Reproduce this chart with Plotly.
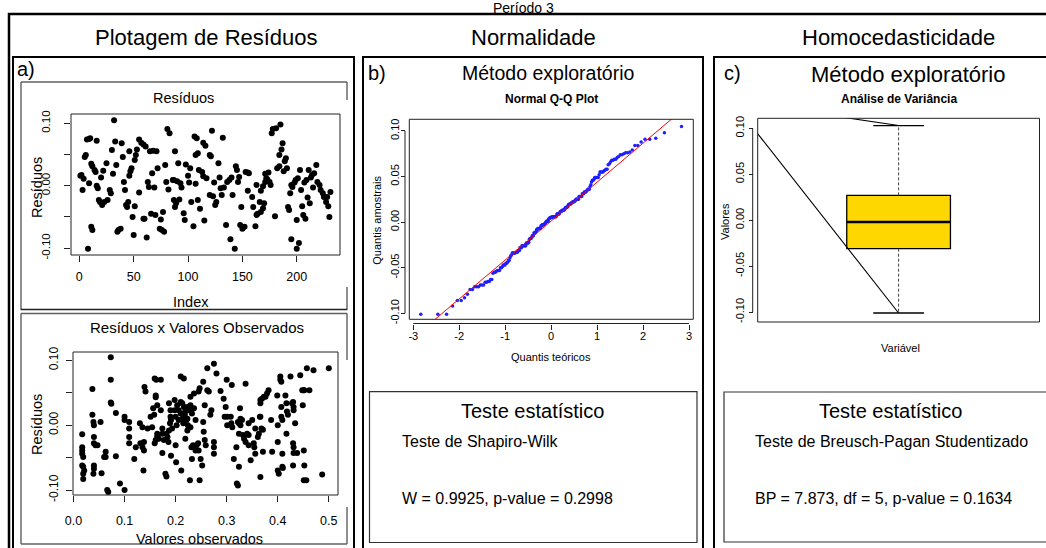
import plotly.graph_objects as go
from statistics import NormalDist

W, H = 1046, 548
FONT = "Liberation Sans, Arial, Helvetica, sans-serif"

# ---------------- data ----------------
# a) Resíduos x Index
indice = [1, 2, 3, 4, 5, 6, 7, 8, 9, 9, 10, 11, 11, 12, 12, 14, 15, 16, 16, 17, 18, 19, 20, 21, 22, 23, 25, 26,
          28, 29, 30, 31, 32, 33, 34, 35, 36, 38, 39, 40, 41, 42, 43, 44, 45, 46, 46, 47, 48, 49, 50, 51, 51, 52,
          53, 55, 55, 57, 59, 59, 60, 61, 62, 63, 64, 65, 66, 67, 68, 69, 70, 71, 72, 74, 75, 76, 77, 78, 79, 80,
          81, 82, 83, 86, 87, 87, 88, 88, 89, 90, 91, 92, 93, 94, 96, 97, 98, 100, 101, 102, 103, 105, 106, 107,
          107, 108, 109, 109, 110, 111, 113, 114, 114, 115, 116, 117, 120, 120, 121, 122, 123, 124, 125, 126, 128,
          129, 130, 131, 132, 133, 135, 136, 138, 139, 140, 141, 143, 144, 145, 146, 147, 148, 149, 150, 152, 153,
          155, 155, 156, 159, 160, 162, 163, 163, 164, 166, 167, 167, 169, 169, 170, 171, 171, 172, 173, 174, 175,
          176, 177, 178, 180, 181, 182, 184, 184, 185, 186, 187, 188, 189, 190, 191, 192, 193, 194, 195, 195, 196,
          198, 199, 200, 200, 201, 202, 203, 204, 205, 206, 207, 208, 209, 210, 211, 212, 213, 214, 215, 216, 218,
          219, 221, 222, 224, 225, 227, 228, 229, 230, 231]
residuos = [0.016, 0.017, -0.007, 0.011, 0.046, 0.049, 0.074, -0.101, 0.004, 0.075, 0.076, 0.035, -0.066, 0.031,
            -0.071, 0.025, 0.022, 0.072, 0.000, -0.004, -0.023, -0.026, 0.013, -0.031, 0.024, -0.026, 0.036, -0.023,
            -0.007, -0.012, 0.057, 0.019, 0.105, 0.071, 0.033, -0.074, -0.071, -0.069, 0.068, 0.046, 0.006, -0.007,
            -0.031, -0.034, -0.026, 0.016, 0.055, 0.023, 0.028, -0.050, -0.079, 0.041, -0.033, 0.049, 0.058, 0.074,
            -0.011, 0.069, 0.066, -0.053, -0.053, 0.063, -0.083, 0.006, -0.002, 0.055, -0.045, 0.020, 0.056, -0.003,
            -0.047, 0.055, 0.028, -0.069, -0.054, -0.071, -0.042, -0.074, 0.033, 0.006, 0.091, -0.006, 0.084, 0.009,
            0.009, -0.023, -0.034, 0.055, -0.028, 0.007, 0.036, -0.022, 0.004, -0.003, -0.044, -0.055, 0.034, 0.016,
            0.005, 0.028, -0.026, -0.065, 0.079, 0.003, 0.049, 0.076, 0.052, -0.023, 0.025, -0.037, 0.022, 0.015,
            0.069, -0.056, 0.064, 0.012, 0.049, -0.015, 0.047, 0.088, -0.017, 0.005, -0.031, -0.026, 0.036, 0.013,
            -0.004, -0.015, 0.077, -0.003, -0.063, 0.006, 0.009, -0.086, 0.013, -0.015, -0.101, 0.031, 0.025, 0.006,
            0.014, -0.063, -0.034, -0.069, -0.066, 0.022, 0.021, -0.008, 0.020, -0.018, -0.034, -0.065, -0.047,
            0.001, -0.045, -0.026, -0.042, -0.008, -0.036, -0.001, -0.028, 0.006, 0.019, 0.012, 0.010, 0.021, 0.006,
            0.001, 0.084, 0.091, -0.049, 0.092, 0.028, 0.031, 0.049, 0.098, 0.058, 0.068, 0.023, 0.039, 0.044, 0.028,
            -0.034, -0.039, -0.012, 0.001, -0.086, -0.002, 0.005, 0.009, -0.055, -0.101, 0.012, -0.092, 0.025,
            -0.007, -0.033, -0.047, 0.005, -0.053, 0.009, -0.019, 0.025, -0.028, 0.013, 0.017, -0.003, 0.020, 0.033,
            0.006, 0.001, -0.007, -0.012, -0.018, -0.026, -0.018, -0.033, -0.050, -0.010]

# a) Resíduos x Valores observados
valores_obs = [0.017, 0.017, 0.017, 0.017, 0.019, 0.017, 0.019, 0.021, 0.019, 0.019, 0.037, 0.037, 0.039, 0.040,
               0.040, 0.040, 0.043, 0.047, 0.040, 0.040, 0.039, 0.053, 0.055, 0.060, 0.063, 0.063, 0.066, 0.068,
               0.073, 0.073, 0.073, 0.074, 0.083, 0.083, 0.091, 0.100, 0.100, 0.100,
               0.109, 0.109, 0.109, 0.109, 0.119, 0.122, 0.130, 0.135, 0.131, 0.135, 0.138, 0.138, 0.137, 0.139,
               0.141, 0.145, 0.151, 0.154, 0.156, 0.158, 0.159, 0.161, 0.164, 0.159, 0.162, 0.161, 0.161, 0.164,
               0.164, 0.167, 0.171, 0.171, 0.174, 0.174, 0.174, 0.177, 0.180, 0.182, 0.182, 0.184, 0.186, 0.187,
               0.187, 0.190, 0.190, 0.191, 0.189, 0.191, 0.193, 0.198, 0.198, 0.200, 0.200, 0.201,
               0.203, 0.206, 0.210, 0.210, 0.213, 0.215, 0.216, 0.219, 0.221, 0.206, 0.202, 0.213, 0.218, 0.223,
               0.224, 0.226, 0.223, 0.229, 0.232, 0.236, 0.239, 0.229, 0.210, 0.216, 0.211, 0.219, 0.223, 0.228,
               0.231, 0.234, 0.239, 0.232, 0.229, 0.236, 0.241, 0.244, 0.245, 0.245, 0.247, 0.247, 0.249, 0.252,
               0.254, 0.254, 0.255, 0.257, 0.259, 0.257, 0.262, 0.262, 0.265, 0.268, 0.270, 0.275, 0.275, 0.275,
               0.275, 0.280, 0.288, 0.294, 0.298, 0.296,
               0.300, 0.301, 0.301, 0.308, 0.309, 0.311, 0.310, 0.314, 0.319, 0.320, 0.322, 0.322, 0.324, 0.324,
               0.326, 0.327, 0.327, 0.324, 0.330, 0.332, 0.334, 0.337, 0.337, 0.340, 0.343, 0.343, 0.343, 0.347,
               0.350, 0.353, 0.354, 0.356, 0.356, 0.361, 0.363, 0.365, 0.366, 0.366, 0.366, 0.369, 0.366, 0.368,
               0.371, 0.371, 0.373, 0.376, 0.379, 0.382, 0.387, 0.389, 0.399, 0.400, 0.400, 0.400, 0.402,
               0.405, 0.405, 0.407, 0.407, 0.407, 0.409, 0.409, 0.409, 0.410, 0.415, 0.417, 0.417, 0.418, 0.420,
               0.425, 0.428, 0.430, 0.431, 0.431, 0.430, 0.431, 0.431, 0.430, 0.434, 0.438, 0.444, 0.448, 0.451,
               0.452, 0.449, 0.451, 0.452, 0.451, 0.456, 0.457, 0.462, 0.470, 0.487, 0.500]
residuos_obs = [-0.014, -0.034, -0.039, -0.044, -0.049, -0.062, -0.064, -0.070, -0.075, -0.083, 0.056, 0.016, 0.005,
                0.000, -0.018, -0.028, -0.031, -0.031, -0.062, -0.067, -0.075, 0.005, -0.074, -0.049, -0.041, -0.049,
                -0.100, -0.103, 0.105, 0.070, 0.035, 0.033, 0.019, -0.048, -0.090, 0.013, 0.008, -0.100,
                0.005, -0.005, -0.018, -0.028, -0.052, -0.034, 0.003, -0.003, -0.028, -0.034, -0.026, -0.039, -0.070,
                0.059, 0.052, -0.005, 0.013, -0.003, 0.026, 0.016, -0.028, -0.023, -0.017, 0.072, 0.070, 0.046,
                0.043, 0.031, -0.013, -0.021, 0.070, 0.023, -0.005, -0.013, -0.043, -0.023, -0.075, -0.079, -0.013,
                -0.018, -0.026, -0.008, 0.034, 0.023, 0.013, 0.008, 0.003, -0.047, -0.005, 0.039, 0.023, 0.013,
                -0.031, -0.057,
                0.031, 0.023, 0.018, 0.036, 0.010, 0.003, 0.028, 0.021, 0.008, 0.008, 0.000, 0.034, 0.016, 0.028,
                0.000, 0.023, 0.010, 0.031, 0.018, 0.026, 0.008, -0.003, 0.075, 0.072, -0.070, -0.021, -0.008,
                -0.085, -0.034, -0.031, -0.039, -0.052, 0.044, 0.049, -0.031, -0.028, -0.039, 0.052, 0.057, -0.085,
                -0.052, -0.062, 0.067, 0.005, -0.010, -0.023, -0.031, 0.031, 0.088, 0.054, 0.052, 0.016, 0.023,
                0.095, -0.044, -0.034, -0.026, 0.080, 0.053, 0.041, 0.028, 0.013,
                0.070, 0.013, 0.000, 0.013, 0.003, -0.003, 0.062, -0.052, -0.034, -0.090, -0.093, 0.005, 0.003,
                -0.013, 0.026, 0.010, 0.000, -0.064, 0.008, -0.015, -0.021, 0.064, -0.026, -0.013, -0.015, -0.031,
                0.003, -0.054, 0.008, -0.028, -0.034, -0.005, -0.044, -0.018, -0.013, 0.013, 0.013, 0.034, 0.039,
                0.041, -0.080, -0.005, -0.007, -0.041, 0.044, 0.044, 0.049, 0.054, 0.008, -0.041, 0.046, 0.000,
                -0.026, -0.070, -0.075,
                0.075, 0.070, 0.067, 0.028, 0.013, 0.008, -0.044, -0.064, -0.066, 0.046, -0.013, 0.034, 0.021,
                0.016, 0.075, 0.034, 0.036, 0.028, 0.023, -0.028, -0.034, -0.043, -0.062, 0.003, -0.043, 0.077,
                0.054, 0.054, 0.054, 0.031, -0.039, -0.062, -0.085, -0.085, 0.088, 0.054, 0.085, -0.076, 0.088]

# b) Q-Q line (read from the picture)
qq_intercepto = 0.0012
qq_inclinacao = 0.0427

# c) Boxplot summary (read from the picture)
box_min, box_q1, box_mediana, box_q3, box_max = -0.101, -0.031, -0.002, 0.027, 0.103
diag_ponto = (0.408, 0.130)   # far end of the two stray segments drawn to the whisker ends

# test statistics
shapiro_W, shapiro_p = 0.9925, 0.2998
bp_stat, bp_df, bp_p = 7.873, 5, 0.1634

# tick definitions
ticks_index = [0, 50, 100, 150, 200]
ticks_obs = [0.0, 0.1, 0.2, 0.3, 0.4, 0.5]
ticks_qq = [-3, -2, -1, 0, 1, 2, 3]
ticks_res = [-0.10, -0.05, 0.00, 0.05, 0.10]
ticktext_res_sparse = ["-0.10", "", "0.00", "", "0.10"]
ticktext_res_full = ["-0.10", "-0.05", "0.00", "0.05", "0.10"]

# ---------------- helpers ----------------
def PX(x):
    return x / W

def PY(y):
    return 1 - y / H

annotations = []
shapes = []

def txt(text, x, y, size, xanchor="center", bold=False, angle=0):
    annotations.append(dict(
        text=f"<b>{text}</b>" if bold else text, x=PX(x), y=PY(y), xref="paper", yref="paper",
        xanchor=xanchor, yanchor="middle", showarrow=False, textangle=angle,
        font=dict(size=size, color="black", family=FONT)))

def seg(x0, y0, x1, y1, color="black", width=1.0):
    shapes.append(dict(type="line", xref="paper", yref="paper", x0=PX(x0), y0=PY(y0), x1=PX(x1), y1=PY(y1),
                       line=dict(color=color, width=width)))

def rect(x0, y0, x1, y1, color="black", width=1.0):
    shapes.append(dict(type="rect", xref="paper", yref="paper", x0=PX(x0), y0=PY(y0), x1=PX(x1), y1=PY(y1),
                       line=dict(color=color, width=width), fillcolor="rgba(0,0,0,0)"))

def plotbox(ax):
    shapes.append(dict(type="rect", xref=f"x{ax} domain", yref=f"y{ax} domain", x0=0, x1=1, y0=0, y1=1,
                       line=dict(color="#222222", width=1), fillcolor="rgba(0,0,0,0)"))

fig = go.Figure()

# ---------------- traces ----------------
fig.add_trace(go.Scatter(x=indice, y=residuos, mode="markers", xaxis="x", yaxis="y",
                         marker=dict(color="black", size=6), hoverinfo="skip"))
fig.add_trace(go.Scatter(x=valores_obs, y=residuos_obs, mode="markers", xaxis="x2", yaxis="y2",
                         marker=dict(color="black", size=6), hoverinfo="skip"))

amostra = sorted(residuos)
n = len(amostra)
nd = NormalDist()
teoricos = [nd.inv_cdf((i + 0.5) / n) for i in range(n)]
fig.add_trace(go.Scatter(x=teoricos, y=amostra, mode="markers", xaxis="x3", yaxis="y3",
                         marker=dict(color="#1f1fff", size=3.5), hoverinfo="skip"))
qx = [-3.5, 3.5]
fig.add_trace(go.Scatter(x=qx, y=[qq_intercepto + qq_inclinacao * v for v in qx], mode="lines",
                         xaxis="x3", yaxis="y3", line=dict(color="red", width=1), hoverinfo="skip"))

# boxplot
BW = 0.368
CAP = 0.09
fig.add_trace(go.Box(x=[1.0], q1=[box_q1], median=[box_mediana], q3=[box_q3], lowerfence=[box_q1],
                     upperfence=[box_q3], width=BW, fillcolor="#FFD700", line=dict(color="black", width=1.3),
                     boxpoints=False, whiskerwidth=0, xaxis="x4", yaxis="y4", hoverinfo="skip"))
fig.add_trace(go.Scatter(x=[1, 1, None, 1, 1], y=[box_q3, box_max, None, box_q1, box_min], mode="lines",
                         xaxis="x4", yaxis="y4", line=dict(color="#444444", width=1, dash="3px,2px"),
                         hoverinfo="skip"))
fig.add_trace(go.Scatter(x=[1 - CAP, 1 + CAP, None, 1 - CAP, 1 + CAP],
                         y=[box_max, box_max, None, box_min, box_min], mode="lines",
                         xaxis="x4", yaxis="y4", line=dict(color="black", width=1.3), hoverinfo="skip"))
fig.add_trace(go.Scatter(x=[1 - BW / 2, 1 + BW / 2], y=[box_mediana, box_mediana], mode="lines",
                         xaxis="x4", yaxis="y4", line=dict(color="black", width=2.6), hoverinfo="skip"))
fig.add_trace(go.Scatter(x=[1, diag_ponto[0], 1], y=[box_min, diag_ponto[1], box_max], mode="lines",
                         xaxis="x4", yaxis="y4", line=dict(color="black", width=1.1), hoverinfo="skip"))

# ---------------- axes ----------------
def dom_x(a, b):
    return [PX(a), PX(b)]

def dom_y(top, bottom):
    return [PY(bottom), PY(top)]

common = dict(showgrid=False, zeroline=False, showline=False, ticks="outside", tickcolor="#222222",
              tickwidth=1, color="black", automargin=False)

layout_axes = dict(
    xaxis=dict(domain=dom_x(71, 340), range=[-7.64, 239.8], anchor="y", tickvals=ticks_index,
               ticktext=[str(v) for v in ticks_index], ticklen=6, tickfont=dict(size=12.5, family=FONT),
               ticklabelstandoff=4, **common),
    yaxis=dict(domain=dom_y(114, 255), range=[-0.1111, 0.1149], anchor="x", tickvals=ticks_res,
               ticktext=ticktext_res_sparse, tickangle=-90, ticklen=6,
               tickfont=dict(size=11.5, family=FONT), ticklabelstandoff=9, **common),
    xaxis2=dict(domain=dom_x(73, 338), range=[-0.001, 0.518], anchor="y2", tickvals=ticks_obs,
                ticktext=[f"{v:.1f}" for v in ticks_obs], ticklen=6, tickfont=dict(size=12.5, family=FONT),
                ticklabelstandoff=8, **common),
    yaxis2=dict(domain=dom_y(352, 495), range=[-0.1077, 0.113], anchor="x2", tickvals=ticks_res,
                ticktext=ticktext_res_sparse, tickangle=-90, ticklen=6,
                tickfont=dict(size=12, family=FONT), ticklabelstandoff=3, **common),
    xaxis3=dict(domain=dom_x(409.3, 693.3), range=[-3.087, 3.093], anchor="free", position=PY(323.5),
                tickvals=ticks_qq, ticktext=[str(v) for v in ticks_qq], ticklen=5,
                tickfont=dict(size=11, family=FONT), ticklabelstandoff=-3, **common),
    yaxis3=dict(domain=dom_y(119.3, 319.3), range=[-0.1066, 0.1128], anchor="free", position=PX(405),
                tickvals=ticks_res, ticktext=ticktext_res_full, tickangle=-90, ticklen=4,
                tickfont=dict(size=11, family=FONT), ticklabelstandoff=-2, **common),
    xaxis4=dict(domain=dom_x(757.7, 1039.5), range=[0.5, 1.5], anchor="y4", visible=False),
    yaxis4=dict(domain=dom_y(118.3, 322), range=[-0.1108, 0.1109], anchor="free", position=PX(752.7),
                tickvals=ticks_res, ticktext=ticktext_res_full, tickangle=-90, ticklen=4,
                tickfont=dict(size=11, family=FONT), ticklabelstandoff=0, **common),
)

# ---------------- frames ----------------
rect(9, 14, 1070, 570, width=2.5)          # outer frame
rect(13, 57, 354, 570, width=2)            # panel a
rect(363, 57, 703, 570, width=2)           # panel b
rect(714, 57, 1070, 570, width=2)          # panel c

GREY = "#606060"
# upper figure box (panel a)
seg(21, 82, 347, 82, GREY, 1.4)
seg(21, 82, 21, 310, GREY, 1.4)
seg(347, 82, 347, 100, GREY, 1.4)
seg(347, 287, 347, 310, GREY, 1.4)
seg(21, 309.5, 347, 309.5, "#222222", 1.6)
# lower figure box (panel a)
seg(21, 313.5, 347, 313.5, GREY, 1.4)
seg(21, 313.5, 21, 544, GREY, 1.4)
seg(347, 313.5, 347, 360, GREY, 1.4)
seg(347, 507, 347, 544, GREY, 1.4)
seg(21, 544, 347, 544, GREY, 1.4)

for k in ["", "2", "3", "4"]:
    plotbox(k)

# R style axis lines (first to last tick)
shapes.append(dict(type="line", xref="x3", yref="paper", x0=-3, x1=3, y0=PY(323.5), y1=PY(323.5),
                   line=dict(color="#222222", width=1)))
shapes.append(dict(type="line", xref="paper", yref="y3", x0=PX(405), x1=PX(405), y0=-0.10, y1=0.10,
                   line=dict(color="#222222", width=1)))
shapes.append(dict(type="line", xref="paper", yref="y4", x0=PX(752.7), x1=PX(752.7), y0=-0.10, y1=0.10,
                   line=dict(color="#222222", width=1)))

# test boxes
rect(369.5, 391.7, 697, 542.5, "#333333", 1.2)
rect(724, 392, 1070, 542, "#333333", 1.2)

# ---------------- texts ----------------
txt("Período 3", 523, 8, 14)
txt("Plotagem de Resíduos", 206, 38, 22)
txt("Normalidade", 533, 38, 22)
txt("Homocedasticidade", 898, 38, 22)
txt("a)", 15, 69, 20, xanchor="left")
txt("b)", 366, 72.7, 20, xanchor="left")
txt("c)", 722, 72.7, 20, xanchor="left")
txt("Método exploratório", 548, 73, 19.5)
txt("Método exploratório", 908, 74, 22)
txt("Normal Q-Q Plot", 551, 99, 12, bold=True)
txt("Análise de Variância", 899, 99, 12, bold=True)
txt("Resíduos", 183, 98, 14.5)
txt("Index", 191, 302, 14.5)
txt("Resíduos", 37, 188, 14.5, angle=-90)
txt("Resíduos x Valores Observados", 197, 327, 15)
txt("Valores observados", 199, 539, 14.5)
txt("Resíduos", 37, 425, 14.5, angle=-90)
txt("Quantis teóricos", 551, 356.7, 11)
txt("Quantis amostrais", 376.7, 220, 11, angle=-90)
txt("Variável", 900, 348, 11)
txt("Valores", 725, 222, 11, angle=-90)

txt("Teste estatístico", 532, 410.7, 20)
txt("Teste de Shapiro-Wilk", 399.5, 441.7, 16, xanchor="left")
txt(f"W = {shapiro_W}, p-value = {shapiro_p}", 399.5, 498.3, 16, xanchor="left")
txt("Teste estatístico", 890.6, 410.7, 20)
txt("Teste de Breusch-Pagan Studentizado", 752.8, 441.7, 16, xanchor="left")
txt(f"BP = {bp_stat}, df = {bp_df}, p-value = {bp_p}", 752.8, 498.3, 16, xanchor="left")

fig.update_layout(
    width=W, height=H, margin=dict(l=0, r=0, t=0, b=0, pad=0, autoexpand=False), autosize=False,
    paper_bgcolor="white", plot_bgcolor="white", showlegend=False,
    font=dict(family=FONT, color="black"),
    shapes=shapes, annotations=annotations, **layout_axes)

fig.write_html("out.html", config={"displayModeBar": False},
               post_script="document.body.style.margin='0';document.body.style.overflow='hidden';")
